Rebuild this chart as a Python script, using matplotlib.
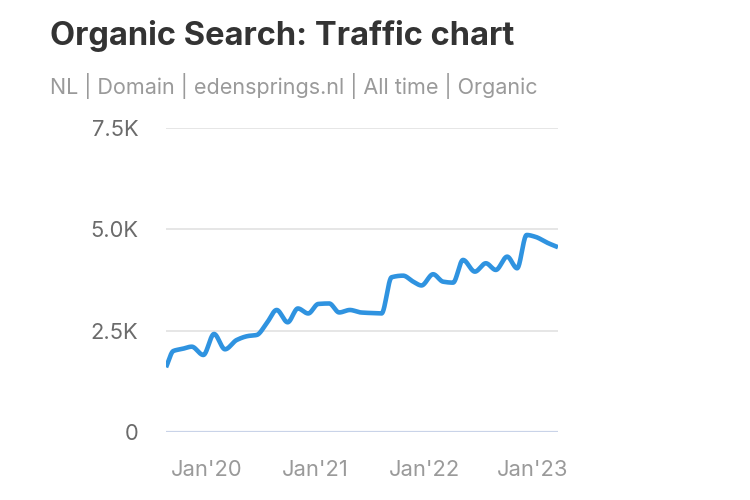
import numpy as np
import matplotlib
matplotlib.use("Agg")
import matplotlib.pyplot as plt

plt.rcParams['font.family'] = ['Inter', 'DejaVu Sans']

title = "Organic Search: Traffic chart"
subtitle = "NL | Domain | edensprings.nl | All time | Organic"

# x = months offset from Jan 2020, y = organic traffic
months = [-4.49, -3.68, -2.72, -1.65, -0.37, 0.81, 2.02, 3.31, 4.59, 5.51,
          6.62, 7.72, 8.93, 10.06, 11.2, 12.31, 13.52, 14.62, 15.8, 17.0,
          18.0, 19.29, 20.4, 21.67, 22.79, 23.7, 24.98, 26.08, 27.18, 28.28,
          29.59, 30.8, 31.9, 33.15, 34.25, 35.3, 36.2, 37.7, 38.76]
traffic = [1600, 2002, 2052, 2108, 1904, 2421, 2044, 2273, 2372, 2396,
           2685, 3012, 2709, 3049, 2926, 3160, 3172, 2951, 3012, 2951,
           2938, 2926, 3818, 3857, 3709, 3616, 3892, 3709, 3685, 4244,
           3956, 4162, 3998, 4325, 4039, 4859, 4818, 4655, 4557]

xtick_pos = [0, 12, 24, 36]
xtick_labels = ["Jan'20", "Jan'21", "Jan'22", "Jan'23"]
ytick_pos = [0, 2500, 5000, 7500]
ytick_labels = ["0", "2.5K", "5.0K", "7.5K"]


def pchip(x, y, xs):
    x = np.asarray(x, float); y = np.asarray(y, float)
    h = np.diff(x); d = np.diff(y) / h
    n = len(x); m = np.zeros(n)
    for k in range(1, n - 1):
        if d[k - 1] * d[k] > 0:
            w1 = 2 * h[k] + h[k - 1]; w2 = h[k] + 2 * h[k - 1]
            m[k] = (w1 + w2) / (w1 / d[k - 1] + w2 / d[k])
    m[0] = d[0]; m[-1] = d[-1]
    idx = np.clip(np.searchsorted(x, xs) - 1, 0, n - 2)
    t = (xs - x[idx]) / h[idx]
    h00 = 2 * t**3 - 3 * t**2 + 1; h10 = t**3 - 2 * t**2 + t
    h01 = -2 * t**3 + 3 * t**2; h11 = t**3 - t**2
    return h00 * y[idx] + h10 * h[idx] * m[idx] + h01 * y[idx + 1] + h11 * h[idx] * m[idx + 1]


fig = plt.figure(figsize=(7.5, 5), dpi=100)
ax = fig.add_axes([166 / 750, (500 - 432.3) / 500, 392 / 750, (432.3 - 127.7) / 500])

xs = np.linspace(months[0], months[-1], 1500)
ys = pchip(months, traffic, xs)
ax.plot(xs, ys, color="#2F93E0", linewidth=3.3, solid_capstyle="butt", zorder=3)

ax.set_xlim(months[0], months[-1])
ax.set_ylim(0, 7500)
for v in ytick_pos[1:]:
    ax.axhline(v, color="#E4E4E4", linewidth=1.3, zorder=1)
ax.axhline(0, color="#C9D3E8", linewidth=1.6, zorder=2)

for s in ax.spines.values():
    s.set_visible(False)
ax.set_yticks(ytick_pos)
ax.set_yticklabels(ytick_labels)
ax.set_xticks(xtick_pos)
ax.set_xticklabels(xtick_labels)
ax.tick_params(axis="y", length=0, pad=20, labelsize=15.8, labelcolor="#6B6B6B")
ax.tick_params(axis="x", length=0, pad=20, labelsize=15.8, labelcolor="#9A9A9A")

fig.text(50 / 750, 1 - 36 / 500, title, fontsize=23.5, fontweight="bold",
         color="#333333", va="center", ha="left")
fig.text(50 / 750, 1 - 86 / 500, subtitle, fontsize=15.5, color="#9A9A9A",
         va="center", ha="left")

fig.savefig("out.png", dpi=100, facecolor="white")
